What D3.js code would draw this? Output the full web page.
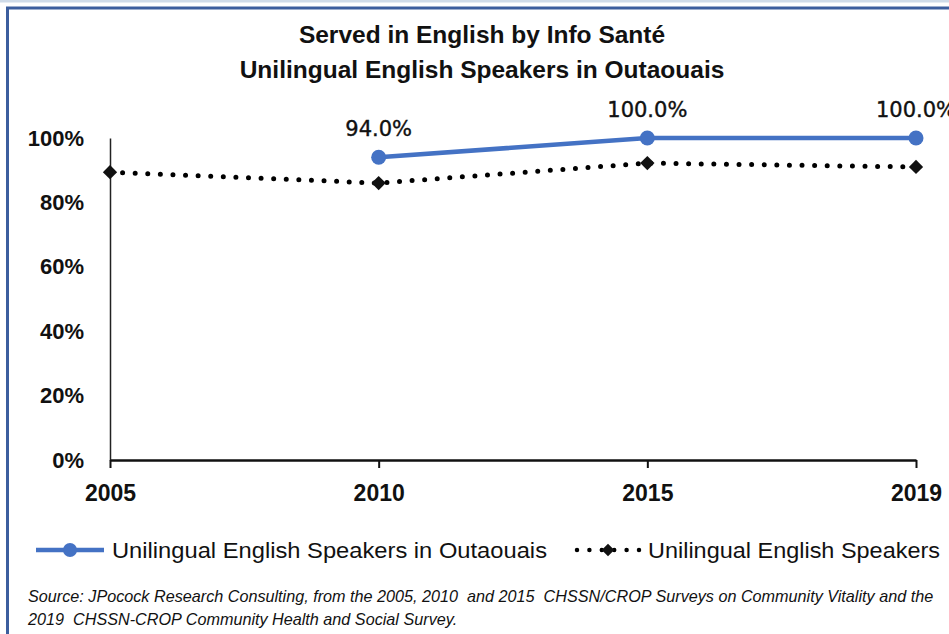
<!DOCTYPE html>
<html><head><meta charset="utf-8">
<script src="https://cdn.jsdelivr.net/npm/d3@7"></script>
<style>
body{margin:0;background:#fff;}
svg{display:block;}
</style></head><body>
<svg id="chart" width="949" height="634"></svg>
<script>
const categories = ["2005", "2010", "2015", "2019"];
const outaouais = [null, 94.0, 100.0, 100.0];
const allSpeakers = [89.4, 86.0, 92.2, 91.0];
const yTicks = [0, 20, 40, 60, 80, 100];
const seriesNames = ["Unilingual English Speakers in Outaouais", "Unilingual English Speakers"];
const titleLines = ["Served in English by Info Santé", "Unilingual English Speakers in Outaouais"];
const sourceLines = ["Source: JPocock Research Consulting, from the 2005, 2010  and 2015  CHSSN/CROP Surveys on Community Vitality and the",
                     "2019  CHSSN-CROP Community Health and Social Survey."];

const narrow = "'Liberation Sans Narrow', 'Arial Narrow', 'Liberation Sans', sans-serif";
const svg = d3.select("#chart");

// frame
svg.append("rect").attr("x",0).attr("y",0).attr("width",949).attr("height",2.5).attr("fill","#cfdbe9");
svg.append("path").attr("d","M7.5,634 V8 H949").attr("fill","none").attr("stroke","#3c5e9e").attr("stroke-width",3);

const x = d3.scalePoint().domain(categories).range([110, 916]);
const y = d3.scaleLinear().domain([0,100]).range([460, 138]);

// title
svg.append("g").selectAll("text").data(titleLines).join("text")
  .attr("x", 482).attr("y",(d,i)=>43+i*35).attr("text-anchor","middle")
  .attr("font-family", narrow).attr("font-weight","bold").attr("font-size",24.5).attr("fill","#111")
  .text(d=>d);

// y axis
const yAxis = svg.append("g").attr("transform","translate(110,0)")
  .call(d3.axisLeft(y).tickValues(yTicks).tickSize(0).tickPadding(26).tickFormat(d=>d+"%"));
yAxis.select(".domain").attr("stroke","#222").attr("stroke-width",1.5);
yAxis.selectAll("text").attr("font-family", narrow).attr("font-weight","bold").attr("font-size",22).attr("fill","#111");

// x axis
const xAxis = svg.append("g").attr("transform","translate(0,460)")
  .call(d3.axisBottom(x).tickSizeInner(8).tickSizeOuter(0).tickPadding(17));
xAxis.select(".domain").attr("stroke","#111").attr("stroke-width",2.5);
xAxis.selectAll(".tick line").attr("stroke","#111").attr("stroke-width",2);
xAxis.selectAll("text").attr("font-family", narrow).attr("font-weight","bold").attr("font-size",23).attr("fill","#111");

// dotted series
const pts2 = categories.map((c,i)=>({c, v: allSpeakers[i]}));
svg.append("path").datum(pts2)
  .attr("d", d3.line().x(d=>x(d.c)).y(d=>y(d.v)))
  .attr("fill","none").attr("stroke","#000").attr("stroke-width",5)
  .attr("stroke-linecap","round").attr("stroke-dasharray","0 12.6");
svg.append("g").selectAll("path").data(pts2).join("path")
  .attr("d", d3.symbol(d3.symbolDiamond2, 130))
  .attr("transform", d=>`translate(${x(d.c)},${y(d.v)})`).attr("fill","#111");

// blue series
const pts1 = categories.map((c,i)=>({c, v: outaouais[i]})).filter(d=>d.v!=null);
svg.append("path").datum(pts1)
  .attr("d", d3.line().x(d=>x(d.c)).y(d=>y(d.v)))
  .attr("fill","none").attr("stroke","#4472c4").attr("stroke-width",4.5).attr("stroke-linejoin","round");
svg.append("g").selectAll("circle").data(pts1).join("circle")
  .attr("cx", d=>x(d.c)).attr("cy", d=>y(d.v)).attr("r",7.5).attr("fill","#4472c4");
svg.append("g").selectAll("text").data(pts1).join("text")
  .attr("x", d=>x(d.c)).attr("y", d=>y(d.v)-21).attr("text-anchor","middle")
  .attr("font-family","'DejaVu Sans', Verdana, sans-serif").attr("font-size",21).attr("fill","#111")
  .attr("stroke","#111").attr("stroke-width",0.4)
  .text(d=>d.v.toFixed(1)+"%");

// legend
const lg = svg.append("g");
lg.append("line").attr("x1",36).attr("x2",104).attr("y1",550).attr("y2",550).attr("stroke","#4472c4").attr("stroke-width",4.5);
lg.append("circle").attr("cx",70).attr("cy",550).attr("r",7).attr("fill","#4472c4");
lg.append("line").attr("x1",577).attr("x2",639).attr("y1",550).attr("y2",550).attr("stroke","#000").attr("stroke-width",4.5)
  .attr("stroke-linecap","round").attr("stroke-dasharray","0 12.4");
lg.append("path").attr("d", d3.symbol(d3.symbolDiamond2, 100)).attr("transform","translate(608,550)").attr("fill","#111");
lg.selectAll("text").data(seriesNames).join("text")
  .attr("x",(d,i)=>i===0?112:648).attr("y",558)
  .attr("font-family", narrow).attr("font-size",22.5).attr("fill","#111")
  .attr("textLength",(d,i)=>i===0?435:292).attr("lengthAdjust","spacingAndGlyphs")
  .text(d=>d);

// source
svg.append("g").selectAll("text").data(sourceLines).join("text")
  .attr("x",28).attr("y",(d,i)=>602+i*23)
  .attr("font-family", narrow).attr("font-style","italic").attr("font-size",16.2).attr("fill","#111")
  .attr("xml:space","preserve").style("white-space","pre")
  .text(d=>d);
</script>
</body></html>
